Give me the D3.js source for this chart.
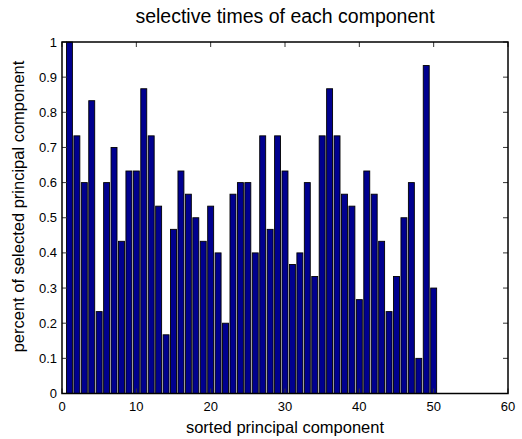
<!DOCTYPE html>
<html><head><meta charset="utf-8">
<script src="https://cdn.jsdelivr.net/npm/d3@7"></script>
<style>body{margin:0;background:#fff}svg{display:block}text{font-family:"Liberation Sans",Arial,Helvetica,sans-serif;fill:#000}</style>
</head><body><svg id="c" width="522" height="439"></svg>
<script>
const components = d3.range(1, 51);
const selectedPercent = [1.0,0.733,0.6,0.833,0.233,0.6,0.7,0.433,0.633,0.633,
0.867,0.733,0.533,0.167,0.467,0.633,0.567,0.5,0.433,0.533,
0.4,0.2,0.567,0.6,0.6,0.4,0.733,0.467,0.733,0.633,
0.367,0.4,0.6,0.333,0.733,0.867,0.733,0.567,0.533,0.267,
0.633,0.567,0.433,0.233,0.333,0.5,0.6,0.1,0.933,0.3];
const xTicks = [0,10,20,30,40,50,60];
const yTicks = [0,0.1,0.2,0.3,0.4,0.5,0.6,0.7,0.8,0.9,1];
const yTickLabels = ["0","0.1","0.2","0.3","0.4","0.5","0.6","0.7","0.8","0.9","1"];

const L=62,R=508,T=42,B=393.5;
const svg=d3.select("#c");
const x=d3.scaleLinear().domain([0,60]).range([L,R]);
const y=d3.scaleLinear().domain([0,1]).range([B,T]);
const bw=0.8;

svg.append("g").selectAll("rect").data(components).join("rect")
  .attr("x",d=>x(d-bw/2)).attr("width",x(bw)-x(0))
  .attr("y",(d,i)=>y(selectedPercent[i])).attr("height",(d,i)=>y(0)-y(selectedPercent[i]))
  .attr("fill","#00008f").attr("stroke","#000").attr("stroke-width",0.9);

const tl=5;
const ax=svg.append("g").attr("font-size",13);
// x ticks
const xg=ax.append("g").attr("stroke","#333").attr("stroke-width",1);
xTicks.forEach(t=>{
  xg.append("line").attr("x1",x(t)).attr("x2",x(t)).attr("y1",B).attr("y2",B-tl);
  xg.append("line").attr("x1",x(t)).attr("x2",x(t)).attr("y1",T).attr("y2",T+tl);
});
ax.append("g").selectAll("text").data(xTicks).join("text")
  .attr("x",d=>x(d)).attr("y",B+17).attr("text-anchor","middle").text(d=>d);
const yg=ax.append("g").attr("stroke","#333").attr("stroke-width",1);
yTicks.forEach(t=>{
  yg.append("line").attr("x1",L).attr("x2",L+tl).attr("y1",y(t)).attr("y2",y(t));
  yg.append("line").attr("x1",R).attr("x2",R-tl).attr("y1",y(t)).attr("y2",y(t));
});
ax.append("g").selectAll("text").data(yTicks).join("text")
  .attr("x",L-5).attr("y",d=>y(d)+4.5).attr("text-anchor","end").text((d,i)=>yTickLabels[i]);
// box
ax.append("rect").attr("x",L).attr("y",T).attr("width",R-L).attr("height",B-T)
  .attr("fill","none").attr("stroke","#000").attr("stroke-width",1.5);

svg.append("text").attr("x",(L+R)/2).attr("y",23).attr("text-anchor","middle")
  .attr("font-size",19.5).text("selective times of each component");
svg.append("text").attr("x",(L+R)/2).attr("y",433).attr("text-anchor","middle")
  .attr("font-size",16.5).text("sorted principal component");
svg.append("text").attr("transform",`translate(24,206.5) rotate(-90)`).attr("text-anchor","middle")
  .attr("font-size",16.5).text("percent of selected principal component");
</script></body></html>
